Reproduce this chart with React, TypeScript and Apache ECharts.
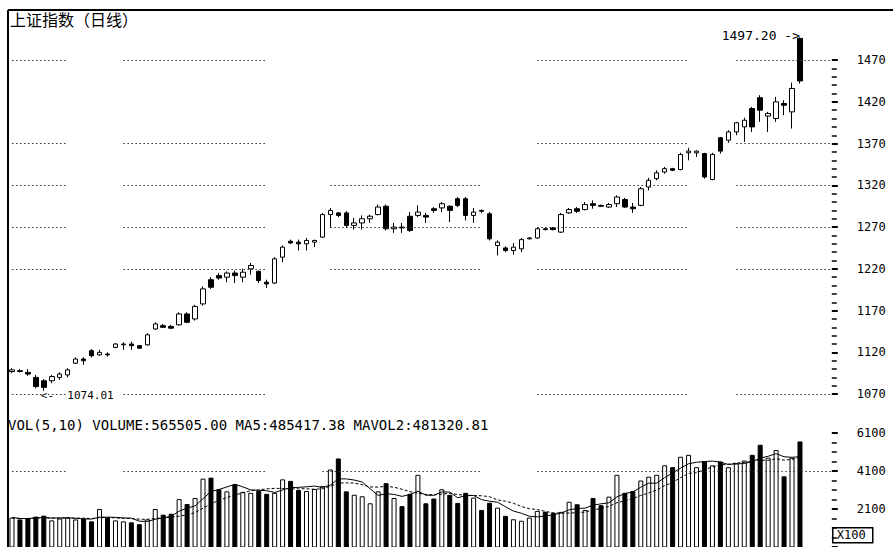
import React, { useEffect, useRef } from 'react';
import * as echarts from 'echarts';

// ---- texts ----
const chartTitle = '上证指数（日线）';
const volumeTitle = 'VOL(5,10) VOLUME:565505.00 MA5:485417.38 MAVOL2:481320.81';
const unitText = 'X100';
const lowLabel = '<-  1074.01';
const highLabel = '1497.20 ->';

// ---- trading-day slots (100 days drawn, a few empty slots at the right) ----
const days = Array.from({ length: 104 }, (_, i) => `${i + 1}`);

// ---- daily candles: [open, close, low, high] ----
const candles: number[][] = [
  [1097, 1099, 1095, 1101], [1098, 1097, 1096, 1100], [1096, 1094, 1092, 1100], [1090, 1079, 1077, 1093],
  [1086, 1078, 1074.01, 1088], [1086, 1091, 1083, 1093], [1090, 1094, 1087, 1096], [1093, 1099, 1090, 1101],
  [1107, 1112, 1106, 1114], [1112, 1110, 1105, 1114], [1122, 1116, 1114, 1124], [1117, 1120, 1116, 1123],
  [1118, 1117, 1115, 1120], [1126, 1130, 1125, 1131], [1129, 1130, 1123, 1132], [1130, 1128, 1123, 1133],
  [1128, 1125, 1124, 1129], [1129, 1141, 1128, 1143], [1148, 1154, 1147, 1156], [1152, 1150, 1149, 1154],
  [1151, 1149, 1148, 1153], [1153, 1166, 1152, 1168], [1166, 1156, 1155, 1168], [1160, 1175, 1158, 1177],
  [1178, 1196, 1176, 1199], [1207, 1198, 1196, 1210], [1212, 1209, 1207, 1215], [1210, 1215, 1204, 1217],
  [1215, 1212, 1203, 1218], [1210, 1216, 1204, 1220], [1220, 1224, 1213, 1227], [1217, 1206, 1203, 1218],
  [1204, 1202, 1197, 1207], [1203, 1232, 1202, 1234], [1234, 1246, 1228, 1248], [1253, 1251, 1250, 1255],
  [1252, 1250, 1242, 1255], [1250, 1254, 1242, 1257], [1252, 1254, 1246, 1255], [1258, 1285, 1257, 1287],
  [1285, 1290, 1269, 1293], [1287, 1284, 1282, 1288], [1287, 1272, 1269, 1289], [1272, 1275, 1267, 1281],
  [1275, 1280, 1267, 1284], [1280, 1283, 1275, 1285], [1285, 1294, 1284, 1297], [1295, 1268, 1266, 1297],
  [1268, 1270, 1263, 1275], [1270, 1269, 1263, 1275], [1283, 1266, 1264, 1288], [1284, 1288, 1282, 1296],
  [1284, 1282, 1275, 1287], [1292, 1290, 1287, 1294], [1293, 1298, 1288, 1300], [1295, 1290, 1276, 1296],
  [1304, 1296, 1294, 1306], [1304, 1284, 1278, 1306], [1284, 1288, 1275, 1293], [1290, 1289, 1287, 1291],
  [1286, 1256, 1254, 1288], [1248, 1252, 1236, 1254], [1245, 1242, 1240, 1247], [1242, 1246, 1237, 1251],
  [1244, 1255, 1240, 1257], [1256, 1257, 1255, 1258], [1257, 1268, 1256, 1270], [1268, 1267, 1266, 1270],
  [1269, 1267, 1266, 1270], [1264, 1285, 1263, 1287], [1287, 1291, 1286, 1293], [1292, 1289, 1287, 1294],
  [1291, 1297, 1290, 1300], [1298, 1296, 1292, 1302], [1296, 1295, 1294, 1297], [1294, 1297, 1293, 1299],
  [1298, 1306, 1294, 1308], [1303, 1294, 1293, 1305], [1294, 1292, 1287, 1299], [1296, 1316, 1295, 1318],
  [1318, 1326, 1314, 1329], [1328, 1335, 1326, 1338], [1336, 1340, 1334, 1342], [1340, 1338, 1337, 1341],
  [1339, 1357, 1338, 1359], [1359, 1361, 1350, 1365], [1359, 1361, 1354, 1362], [1358, 1330, 1328, 1359],
  [1327, 1357, 1326, 1359], [1377, 1361, 1358, 1378], [1374, 1384, 1371, 1386], [1384, 1395, 1380, 1396],
  [1390, 1398, 1372, 1401], [1412, 1390, 1384, 1414], [1425, 1410, 1396, 1428], [1403, 1406, 1384, 1408],
  [1400, 1420, 1396, 1426], [1418, 1416, 1404, 1422], [1408, 1436, 1388, 1443], [1496, 1445, 1442, 1497.2],
];

// ---- daily volume (x100) ----
const volumes: number[] = [
  1650, 1550, 1600, 1700, 1750, 1500, 1600, 1650, 1550, 1600,
  1450, 2100, 1650, 1500, 1450, 1400, 1300, 1550, 2100, 1800,
  1850, 2620, 2360, 2680, 3700, 3750, 3140, 3030, 3400, 3000,
  2950, 3050, 2900, 2950, 3660, 3580, 3100, 3050, 3150, 3300,
  4180, 4760, 3030, 2850, 2770, 2400, 3030, 3460, 2680, 2250,
  2900, 3900, 2400, 2650, 3140, 2850, 2420, 2950, 2700, 2050,
  2430, 2170, 1740, 1560, 1480, 1650, 2000, 1950, 1900, 1950,
  2480, 2350, 2050, 2680, 2300, 2750, 3900, 2950, 3050, 3600,
  3800, 3900, 4400, 4300, 4850, 4950, 4300, 4600, 4400, 4600,
  4300, 4500, 4650, 4950, 5480, 4800, 5200, 3820, 4800, 5655.05,
];

// ---- axis ticks ----
const priceAxis = { min: 1070, max: 1470, step: 50 };
const volumeAxis = { min: 100, max: 6100, step: 2000 };

// ---- annotated extremes ----
const lowPoint = { day: 4, value: 1074.01 };
const highPoint = { day: 99, value: 1497.2 };

// ---- dotted guide levels ----
const priceLevelsOuter = [1470, 1370, 1320, 1270, 1220, 1070];
const priceLevelsInner = [1320, 1270, 1220];
const volumeLevels = [4100];

// dotted guide segments (slot index ranges, the scan shows faded gaps)
const outerSegments = [[0, 7], [14, 32], [66, 85], [91, 103]];
const innerSegments = [[40, 59]];
const volumeSegments = [[0, 7], [14, 32], [39, 59], [66, 103]];

function movingAverage(values: number[], n: number) {
  return values.map((_, i) => {
    const start = Math.max(0, i - n + 1);
    const win = values.slice(start, i + 1);
    return +(win.reduce((a, b) => a + b, 0) / win.length).toFixed(2);
  });
}

function segLines(levels: number[], segs: number[][]) {
  const out: any[] = [];
  levels.forEach((lv) => {
    segs.forEach(([a, b]) => {
      out.push([{ coord: [days[a], lv] }, { coord: [days[b], lv] }]);
    });
  });
  return out;
}

const dotted = { color: '#333', width: 1, type: [1.5, 2.5] as any };

export default function App() {
  const ref = useRef<HTMLDivElement>(null);
  useEffect(() => {
    if (!ref.current) return;
    const chart = echarts.init(ref.current, undefined, { renderer: 'svg' });
    const ma5 = movingAverage(volumes, 5);
    const ma10 = movingAverage(volumes, 10);
    const volData = volumes.map((v, i) => {
      const up = candles[i][1] > candles[i][0];
      return {
        value: v,
        itemStyle: { color: up ? '#fff' : '#000', borderColor: '#000', borderWidth: 1 },
      };
    });
    const mono = 'DejaVu Sans Mono';
    const option: any = {
      animation: false,
      backgroundColor: '#fff',
      grid: [
        { left: 8, width: 827.8, top: 60.1, height: 334 },
        { left: 8, width: 827.8, top: 433, height: 115.5 },
      ],
      xAxis: [
        { type: 'category', data: days, gridIndex: 0, show: false },
        { type: 'category', data: days, gridIndex: 1, show: false },
      ],
      yAxis: [
        {
          type: 'value', gridIndex: 0, position: 'right', offset: -4,
          min: priceAxis.min, max: priceAxis.max, interval: priceAxis.step,
          axisLine: { show: false }, splitLine: { show: false },
          axisTick: { show: true, length: 6, lineStyle: { color: '#000', width: 2 } },
          minorTick: { show: true, splitNumber: 5, length: 5, lineStyle: { color: '#000', width: 1.5 } },
          axisLabel: { margin: 25, color: '#000', fontFamily: mono, fontSize: 12, formatter: (v: number) => String(v) },
        },
        {
          type: 'value', gridIndex: 1, position: 'right', offset: -4,
          min: volumeAxis.min, max: volumeAxis.max, interval: volumeAxis.step,
          axisLine: { show: false }, splitLine: { show: false },
          axisTick: { show: true, length: 6, lineStyle: { color: '#000', width: 2 } },
          minorTick: { show: true, splitNumber: 4, length: 5, lineStyle: { color: '#000', width: 1.5 } },
          axisLabel: {
            margin: 25, color: '#000', fontFamily: mono, fontSize: 12,
            formatter: (v: number) => (v === volumeAxis.min ? '' : String(v)),
          },
        },
      ],
      series: [
        {
          type: 'candlestick', xAxisIndex: 0, yAxisIndex: 0, data: candles, barWidth: 5, clip: false,
          itemStyle: { color: '#fff', color0: '#000', borderColor: '#000', borderColor0: '#000', borderWidth: 1 },
          markLine: {
            silent: true, symbol: ['none', 'none'], label: { show: false }, lineStyle: dotted,
            data: [...segLines(priceLevelsOuter, outerSegments), ...segLines(priceLevelsInner, innerSegments)],
          },
        },
        {
          type: 'bar', xAxisIndex: 1, yAxisIndex: 1, data: volData, barWidth: 5,
          markLine: {
            silent: true, symbol: ['none', 'none'], label: { show: false }, lineStyle: dotted,
            data: segLines(volumeLevels, volumeSegments),
          },
        },
        {
          type: 'line', xAxisIndex: 1, yAxisIndex: 1, data: ma5, symbol: 'none', z: 5,
          lineStyle: { color: '#000', width: 1 },
        },
        {
          type: 'line', xAxisIndex: 1, yAxisIndex: 1, data: ma10, symbol: 'none', z: 5,
          lineStyle: { color: '#000', width: 1, type: [3, 2] },
        },
      ],
      graphic: [
        { id: 'top', type: 'line', shape: { x1: 8, y1: 10, x2: 893, y2: 10 }, style: { stroke: '#000', lineWidth: 2 } },
        { id: 'left', type: 'line', shape: { x1: 8, y1: 10, x2: 8, y2: 547 }, style: { stroke: '#000', lineWidth: 2 } },
        {
          id: 'title', type: 'text', left: 10, top: 11,
          style: { text: chartTitle, fill: '#000', font: '16px "Noto Sans CJK SC"' },
        },
        {
          id: 'voltitle', type: 'text', left: 8, top: 418,
          style: { text: volumeTitle, fill: '#000', font: `14px "${mono}"` },
        },
        {
          id: 'unit', type: 'group', left: 832, top: 527,
          children: [
            { type: 'rect', shape: { x: 0, y: 0, width: 40, height: 15 }, style: { fill: '#fff', stroke: '#000', lineWidth: 1.5 } },
            { type: 'text', x: 4, y: 1, style: { text: unitText, fill: '#000', font: `12px "${mono}"` } },
          ],
        },
      ],
    };
    chart.setOption(option);
    const lo = chart.convertToPixel({ gridIndex: 0 }, [days[lowPoint.day], lowPoint.value]) as number[];
    const hi = chart.convertToPixel({ gridIndex: 0 }, [days[highPoint.day], highPoint.value]) as number[];
    chart.setOption({
      graphic: [
        {
          id: 'lowLabel', type: 'text', x: lo[0] - 3, y: lo[1] + 5,
          style: { text: lowLabel, fill: '#000', font: `11px "${mono}"`, align: 'left', verticalAlign: 'middle' },
        },
        {
          id: 'highLabel', type: 'text', x: hi[0], y: hi[1] - 2,
          style: { text: highLabel, fill: '#000', font: `13px "${mono}"`, align: 'right', verticalAlign: 'middle' },
        },
      ],
    });
    return () => chart.dispose();
  }, []);
  return (
    <div
      ref={ref}
      style={{ position: 'fixed', left: 0, top: 0, width: 893, height: 547, background: '#fff' }}
    />
  );
}
